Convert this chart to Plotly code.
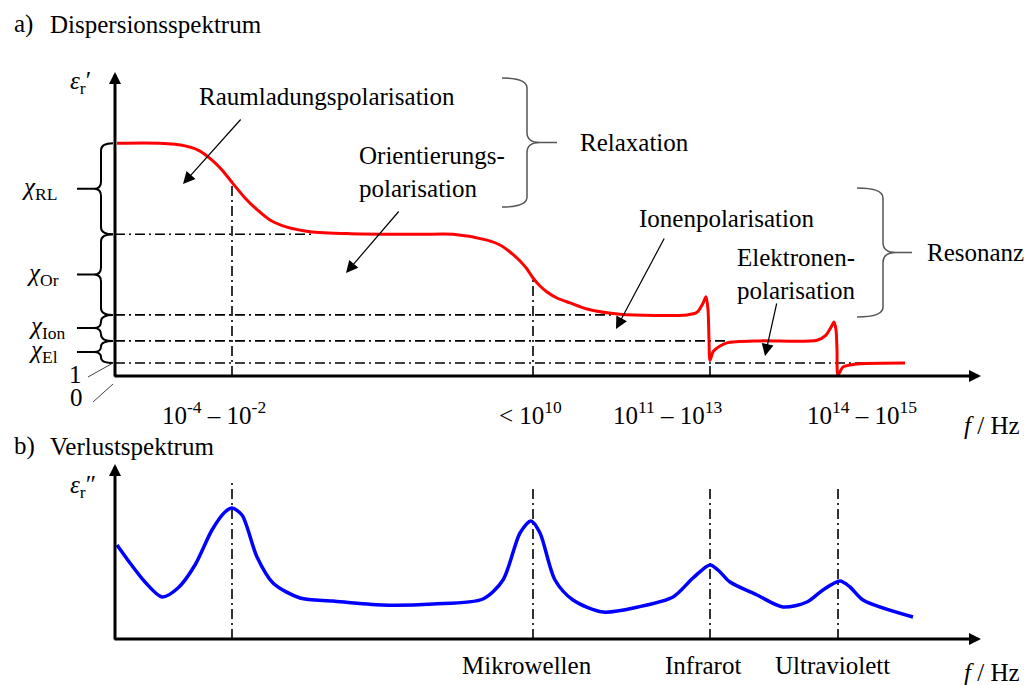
import plotly.graph_objects as go

FONT = "Liberation Serif, Times New Roman, serif"
FS = 25

# ---- dispersion spectrum eps_r' (schematic log-frequency position, relative permittivity units)
disp_pos = [0.2, 4.5, 7.0, 8.5, 9.7, 10.7, 11.8, 13.0, 14.2, 15.5, 17.2, 19.5, 23.5, 30.5,
            33.8, 37.2, 38.5, 39.5, 40.5, 41.2, 41.8, 42.5, 43.2, 44.2, 45.5, 47.2, 50.5,
            57.2, 58.2, 58.8, 59.1, 59.3, 59.4, 59.5, 59.8, 60.5, 61.2, 64.5, 70.2, 71.1,
            71.6, 71.9, 72.1, 72.2, 72.3, 72.8, 73.5, 74.5, 79.0]
eps_real = [17.9, 17.9, 17.7, 17.3, 16.6, 15.85, 14.8, 13.7, 12.8, 12.0, 11.45, 11.1, 10.95,
            10.9, 10.9, 10.45, 10.08, 9.54, 8.85, 8.23, 7.54, 6.92, 6.46, 6.0, 5.62, 5.15,
            4.75, 4.7, 4.9, 5.6, 6.1, 5.1, 2.8, 1.2, 1.85, 2.3, 2.55, 2.7, 2.75, 3.15,
            3.75, 4.15, 3.55, 2.0, 0.1, 0.7, 0.85, 0.95, 1.0]

# ---- loss spectrum eps_r''
loss_pos = [0.2, 1.5, 3.0, 4.7, 6.3, 8.0, 9.7, 11.0, 11.7, 12.7, 14.2, 15.8, 18.5, 21.8,
            26.7, 31.8, 36.8, 38.8, 40.5, 41.6, 42.5, 44.0, 45.8, 48.8, 52.3, 55.8, 57.8,
            59.5, 60.3, 61.5, 64.2, 66.8, 69.2, 70.8, 72.5, 73.5, 74.8, 79.8]
eps_imag = [9.4, 7.6, 5.7, 4.2, 5.1, 7.4, 10.9, 12.7, 13.1, 12.4, 8.2, 5.6, 4.1, 3.8,
            3.4, 3.5, 4.0, 5.9, 10.6, 11.8, 10.6, 5.9, 3.9, 2.7, 3.2, 4.2, 6.1,
            7.4, 6.9, 5.7, 4.4, 3.2, 3.7, 4.9, 5.8, 5.2, 3.9, 2.2]

# plateau levels of eps_r' (static value down to eps = 1)
plateau_levels = [17.9, 10.9, 4.7, 2.7, 1.0]
chi_names = ["RL", "Or", "Ion", "El"]
level_line_end = [19.8, 49.7, 61.2, 79.0]      # extent of the guide lines of levels 2..5

# characteristic frequencies of the four mechanisms
transition_pos = [11.7, 41.8, 59.5, 72.3]
disp_guide_top = [14.8, 7.54, 1.0]
loss_guide_top = [16.0, 15.0, 15.0, 15.0]

freq_labels = ["10<sup>-4</sup> – 10<sup>-2</sup>", "&lt; 10<sup>10</sup>",
               "10<sup>11</sup> – 10<sup>13</sup>", "10<sup>14</sup> – 10<sup>15</sup>"]
band_labels = ["Mikrowellen", "Infrarot", "Ultraviolett"]

fig = go.Figure()
DASHDOT = "10px,4px,2px,4px"


def guide(x, y, xa, ya):
    fig.add_trace(go.Scatter(x=x, y=y, mode="lines", xaxis=xa, yaxis=ya, hoverinfo="skip",
                             line=dict(color="black", width=1.6, dash=DASHDOT)))


for lvl, end in zip(plateau_levels[1:], level_line_end):
    guide([0, end], [lvl, lvl], "x", "y")
for xp, top in zip(transition_pos[:3], disp_guide_top):
    guide([xp, xp], [0, top], "x", "y")
for xp, top in zip(transition_pos, loss_guide_top):
    guide([xp, xp], [0, top], "x2", "y2")

fig.add_trace(go.Scatter(x=disp_pos, y=eps_real, mode="lines", xaxis="x", yaxis="y",
                         hoverinfo="skip",
                         line=dict(color="#ff0000", width=3, shape="spline", smoothing=0.8)))
fig.add_trace(go.Scatter(x=loss_pos, y=eps_imag, mode="lines", xaxis="x2", yaxis="y2",
                         hoverinfo="skip",
                         line=dict(color="#0000ff", width=3.5, shape="spline", smoothing=0.8)))
# canvas layer for annotations and braces
fig.add_trace(go.Scatter(x=[0], y=[0], mode="markers", xaxis="x3", yaxis="y3",
                         marker=dict(opacity=0), hoverinfo="skip"))

shapes = []
ann = []


def text(x, y, s, xanchor="left", yanchor="middle", size=FS, align="left", yref="y3"):
    ann.append(dict(x=x, y=y, xref="x3", yref=yref, text=s, showarrow=False,
                    xanchor=xanchor, yanchor=yanchor, align=align,
                    font=dict(family=FONT, size=size, color="black")))


def arrow(x0, y0, x1, y1, width=1.2, size=2.0):
    ann.append(dict(x=x1, y=y1, ax=x0, ay=y0, xref="x3", yref="y3", axref="x3", ayref="y3",
                    text="", showarrow=True, arrowhead=2, arrowsize=size,
                    arrowwidth=width, arrowcolor="black", standoff=0))


# coordinate axes with arrow heads
arrow(115, 378, 115, 72, width=3, size=0.8)
arrow(113, 376, 981, 376, width=3, size=0.8)
arrow(115, 641, 115, 464, width=3, size=0.8)
arrow(113, 639, 981, 639, width=3, size=0.8)

# titles
text(12, 24, "a)")
text(48, 24, "Dispersionsspektrum")
text(12, 446, "b)")
text(48, 446, "Verlustspektrum")
text(68, 82, "<i>ε</i><sub>r</sub>′")
text(68, 486, "<i>ε</i><sub>r</sub>″")

# mechanism labels with pointers
text(197, 96, "Raumladungspolarisation")
arrow(242, 118, 183, 184)
text(357, 172, "Orientierungs-<br>polarisation")
arrow(400, 210, 346, 273)
text(637, 218, "Ionenpolarisation")
arrow(665, 237, 616, 329)
text(735, 274, "Elektronen-<br>polarisation")
arrow(777, 302, 765, 356)
text(578, 142, "Relaxation")
text(925, 252, "Resonanz")

# frequency ranges and spectral bands
for s, cx in zip(freq_labels, [214, 530, 668, 862]):
    text(cx, 413, s, xanchor="center")
text(1022, 425, "<i>f</i> / Hz", xanchor="right")
for s, cx in zip(band_labels, [527, 703, 832]):
    text(cx, 665, s, xanchor="center")
text(1022, 672, "<i>f</i> / Hz", xanchor="right")

# susceptibility braces on the eps_r' axis (x in canvas px, y in eps units)
px_per_unit = 13.0
chi_left = [20, 25, 27, 27]
for name, hi, lo, xl in zip(chi_names, plateau_levels[:-1], plateau_levels[1:], chi_left):
    r = min(7 / px_per_unit, (hi - lo) / 4)
    ym = (hi + lo) / 2
    xe, xb, xt, xlead = 113, 101, 94, 77
    path = (f"M{xe},{hi} Q{xb},{hi} {xb},{hi - r} L{xb},{ym + r} Q{xb},{ym} {xt},{ym} "
            f"L{xlead},{ym} M{xt},{ym} Q{xb},{ym} {xb},{ym - r} L{xb},{lo + r} "
            f"Q{xb},{lo} {xe},{lo}")
    shapes.append(dict(type="path", path=path, xref="x3", yref="y",
                       line=dict(color="black", width=2)))
    text(xl, ym, f"<i>χ</i><sub>{name}</sub>", yref="y")

# "1" and "0" marks on the eps_r' axis
text(75, 374, "1", xanchor="center")
text(76, 397, "0", xanchor="center")
shapes.append(dict(type="line", x0=88, y0=377, x1=113, y1=363, xref="x3", yref="y3",
                   line=dict(color="#444", width=1)))
shapes.append(dict(type="line", x0=93, y0=402, x1=113, y1=384, xref="x3", yref="y3",
                   line=dict(color="#444", width=1)))


def right_brace(xe, xb, xt, y1, y2, r=10):
    ym = (y1 + y2) / 2
    return (f"M{xe},{y1} Q{xb},{y1} {xb},{y1 + r} L{xb},{ym - r} Q{xb},{ym} {xb + 13},{ym} "
            f"L{xt},{ym} M{xb + 13},{ym} Q{xb},{ym} {xb},{ym + r} L{xb},{y2 - r} "
            f"Q{xb},{y2} {xe},{y2}")


for p in [right_brace(502, 527, 557, 78, 207), right_brace(857, 883, 912, 188, 317)]:
    shapes.append(dict(type="path", path=p, xref="x3", yref="y3",
                       line=dict(color="#555", width=1.5)))

hidden = dict(visible=False, showgrid=False, zeroline=False, fixedrange=True)
fig.update_layout(
    width=1025, height=685, margin=dict(l=0, r=0, t=0, b=0),
    paper_bgcolor="white", plot_bgcolor="rgba(0,0,0,0)",
    showlegend=False, hovermode=False,
    xaxis=dict(domain=[115 / 1025, 915 / 1025], range=[0, 80], anchor="y", **hidden),
    yaxis=dict(domain=[1 - 376 / 685, 1 - 116 / 685], range=[0, 20], anchor="x", **hidden),
    xaxis2=dict(domain=[115 / 1025, 915 / 1025], range=[0, 80], anchor="y2", **hidden),
    yaxis2=dict(domain=[1 - 639 / 685, 1 - 479 / 685], range=[0, 16], anchor="x2", **hidden),
    xaxis3=dict(domain=[0, 1], range=[0, 1025], anchor="y3", **hidden),
    yaxis3=dict(domain=[0, 1], range=[685, 0], anchor="x3", **hidden),
    shapes=shapes, annotations=ann,
)

fig.write_html("out.html")
